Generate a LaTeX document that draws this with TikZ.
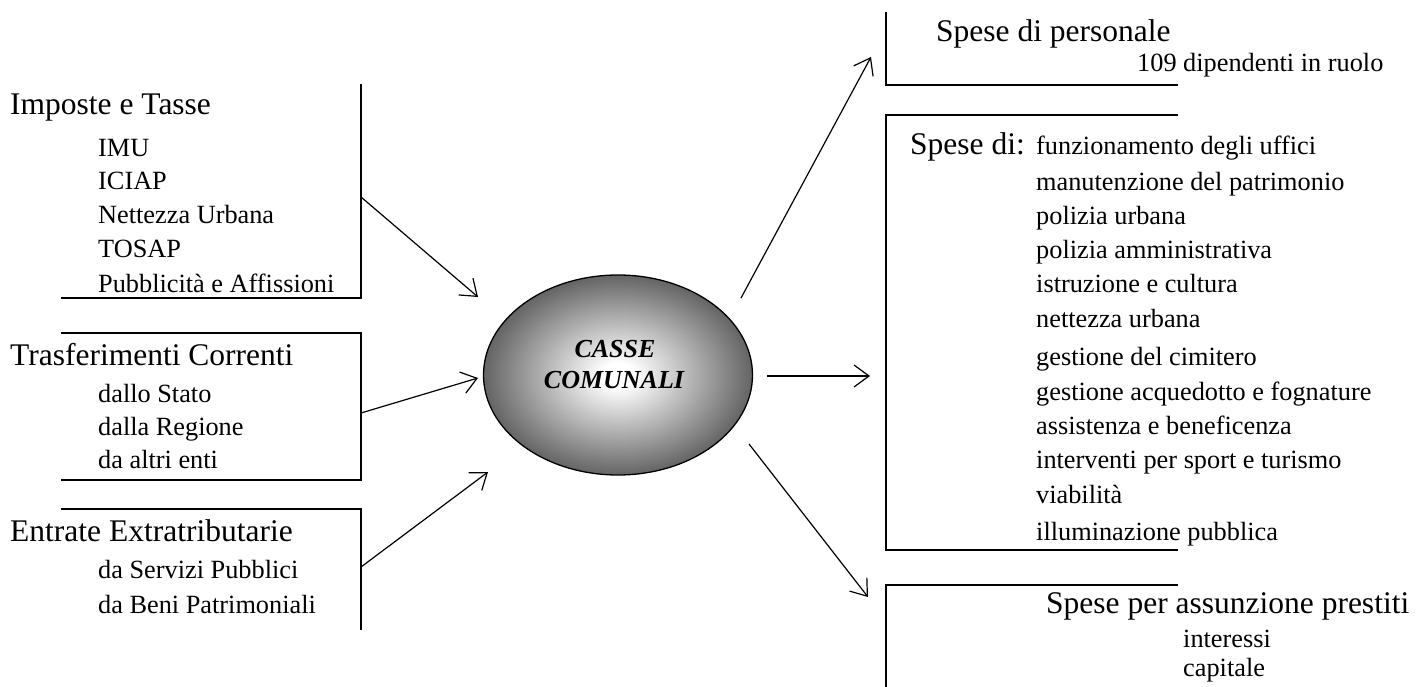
\documentclass[tikz,border=0pt]{standalone}
\usepackage{fontspec}
\setmainfont{Liberation Serif}
\usetikzlibrary{arrows.meta,shapes.geometric}
\definecolor{edgegray}{RGB}{100,100,100}
\pgfdeclareradialshading{ballshade}{\pgfpoint{0bp}{0bp}}{color(0bp)=(white); color(3bp)=(white); color(25bp)=(edgegray); color(50bp)=(edgegray)}
\begin{document}
\begin{tikzpicture}[x=1pt,y=-1pt,
  hd/.style={anchor=base west, inner sep=0pt, font=\fontsize{31.5}{36}\selectfont},
  itm/.style={anchor=base west, inner sep=0pt, font=\fontsize{26.3}{30}\selectfont},
  cas/.style={anchor=base, inner sep=0pt, font=\fontsize{26}{30}\selectfont\bfseries\itshape},
  ln/.style={line width=1.6pt},
  arr/.style={line width=1.2pt, -{Straight Barb[length=15pt,width=22pt]}}]
\useasboundingbox (0,0) rectangle (1417,687);

% ---- left box 1
\coordinate (l1top) at (361,84);
\coordinate (l1br) at (361,298);
\coordinate (l1bl) at (61,298);
\draw[ln] (l1top) -- (l1br) -- (l1bl);
\node[hd] (imposte) at (10,115) {Imposte e Tasse};
\node[itm] (imu) at (98,157) {IMU};
\node[itm] (iciap) at (98,190) {ICIAP};
\node[itm] (nettezza) at (98,224) {Nettezza Urbana};
\node[itm] (tosap) at (98,258) {TOSAP};
\node[itm] (pubbl) at (98,292) {Pubblicità e Affissioni};

% ---- left box 2
\coordinate (l2tl) at (61,333);
\coordinate (l2tr) at (361,333);
\coordinate (l2br) at (361,480);
\coordinate (l2bl) at (61,480);
\draw[ln] (l2tl) -- (l2tr) -- (l2br) -- (l2bl);
\node[hd] (trasf) at (10,365) {Trasferimenti Correnti};
\node[itm] (stato) at (98,402) {dallo Stato};
\node[itm] (regione) at (98,435) {dalla Regione};
\node[itm] (altri) at (98,468) {da altri enti};

% ---- left box 3
\coordinate (l3tl) at (61,509);
\coordinate (l3tr) at (361,509);
\coordinate (l3br) at (361,630);
\draw[ln] (l3tl) -- (l3tr) -- (l3br);
\node[hd] (entrate) at (10,541) {Entrate Extratributarie};
\node[itm] (servizi) at (98,578) {da Servizi Pubblici};
\node[itm] (beni) at (98,613) {da Beni Patrimoniali};

% ---- central ellipse
\node[ellipse, draw, line width=1.3pt, shading=ballshade, minimum width=269pt, minimum height=200pt, inner sep=0pt] (casse) at (618,375) {};
\node[cas] (cassea) at (615,357) {CASSE};
\node[cas] (casseb) at (614,388) {COMUNALI};

% ---- right box 1
\coordinate (r1top) at (886,12);
\coordinate (r1bl) at (886,85);
\coordinate (r1br) at (1178,85);
\draw[ln] (r1top) -- (r1bl) -- (r1br);
\node[hd] (personale) at (936,42) {Spese di personale};
\node[itm] (dipendenti) at (1137,72) {109 dipendenti in ruolo};

% ---- right box 2
\coordinate (r2tr) at (1178,115);
\coordinate (r2tl) at (886,115);
\coordinate (r2bl) at (886,550);
\coordinate (r2br) at (1178,550);
\draw[ln] (r2tr) -- (r2tl) -- (r2bl) -- (r2br);
\node[hd] (spesedi) at (910,155) {Spese di:};
\node[itm] (s1) at (1036,155) {funzionamento degli uffici};
\node[itm] (s2) at (1036,191) {manutenzione del patrimonio};
\node[itm] (s3) at (1036,225) {polizia urbana};
\node[itm] (s4) at (1036,259) {polizia amministrativa};
\node[itm] (s5) at (1036,293) {istruzione e cultura};
\node[itm] (s6) at (1036,327) {nettezza urbana};
\node[itm] (s7) at (1036,365) {gestione del cimitero};
\node[itm] (s8) at (1036,400) {gestione acquedotto e fognature};
\node[itm] (s9) at (1036,434) {assistenza e beneficenza};
\node[itm] (s10) at (1036,468) {interventi per sport e turismo};
\node[itm] (s11) at (1036,503) {viabilità};
\node[itm] (s12) at (1036,540) {illuminazione pubblica};

% ---- right box 3
\coordinate (r3tr) at (1178,585);
\coordinate (r3tl) at (886,585);
\coordinate (r3bl) at (886,687);
\draw[ln] (r3tr) -- (r3tl) -- (r3bl);
\node[hd] (prestiti) at (1046,613) {Spese per assunzione prestiti};
\node[itm] (interessi) at (1183,647) {interessi};
\node[itm] (capitale) at (1183,676) {capitale};

% ---- arrows
\coordinate (a1s) at (361,197); \coordinate (a1e) at (478,297);
\coordinate (a2s) at (361,413); \coordinate (a2e) at (478,378);
\coordinate (a3s) at (361,567); \coordinate (a3e) at (488,472);
\coordinate (a4s) at (741,298); \coordinate (a4e) at (871,57);
\coordinate (a5s) at (767,376); \coordinate (a5e) at (870,376);
\coordinate (a6s) at (749,444); \coordinate (a6e) at (868,597);
\draw[arr] (a1s) -- (a1e);
\draw[arr] (a2s) -- (a2e);
\draw[arr] (a3s) -- (a3e);
\draw[arr] (a4s) -- (a4e);
\draw[arr] (a5s) -- (a5e);
\draw[arr] (a6s) -- (a6e);
\end{tikzpicture}
\end{document}
